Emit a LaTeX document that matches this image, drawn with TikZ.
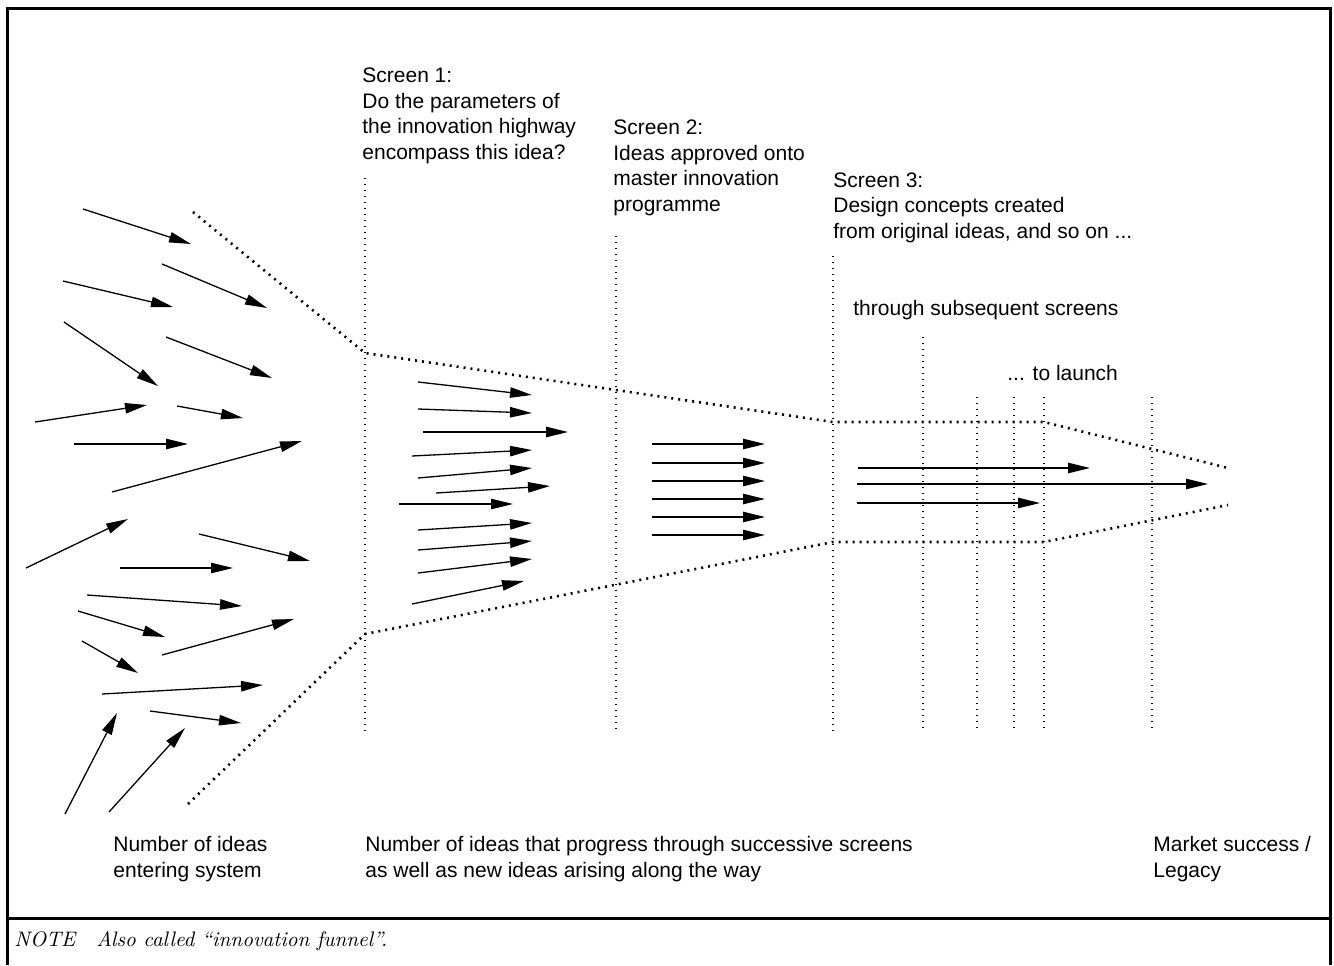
\documentclass[tikz,border=0pt]{standalone}
\usepackage{fontspec}
\newfontfamily\labelfont{Liberation Sans}
\usetikzlibrary{arrows.meta}

\begin{document}
\begin{tikzpicture}[x=0.5pt, y=-0.5pt,
    idea/.style={line width=0.65pt, -{Triangle[length=11pt,width=5.2pt]}},
    funnel/.style={line width=1.3pt, dash pattern=on 1pt off 2.5pt},
    screen/.style={line width=0.6pt, dash pattern=on 0.6pt off 2.4pt},
    lbl/.style={anchor=base west, inner sep=0pt, align=left, font=\labelfont\fontsize{10.5}{12.75}\selectfont}]
    \useasboundingbox (0,0) rectangle (1334,965);
    % frame
    \draw[line width=1.5pt] (7.5,965)--(7.5,8.5)--(1330.5,8.5)--(1330.5,965);
    \draw[line width=1.5pt] (7.5,918)--(1330.5,918);
    \node (note) [anchor=base west, inner sep=0pt, font=\fontsize{10.5}{13}\selectfont\itshape] at (14,946) {NOTE\quad Also called “innovation funnel”.};
    %
    % funnel outline
    \draw[funnel] (193,212)--(365,353)--(833,422)--(1044,422)--(1228,468);
    \draw[funnel] (188,804)--(365,634)--(833,542)--(1044,542)--(1228,505);
    % screens
    \draw[screen] (365,178)--(365,733);
    \draw[screen] (616,236)--(616,731);
    \draw[screen] (833,256)--(833,732);
    \draw[screen] (923,337)--(923,732);
    \draw[screen] (977,397)--(977,732);
    \draw[screen] (1014,397)--(1014,732);
    \draw[screen] (1044,397)--(1044,732);
    \draw[screen] (1152,397)--(1152,732);
    %
    % ideas entering
    \draw[idea] (83,209)--(191,244);
    \draw[idea] (162,264)--(267,308);
    \draw[idea] (63,281)--(173,307);
    \draw[idea] (64,322)--(158,386);
    \draw[idea] (166,337)--(272,378);
    \draw[idea] (35,422)--(147,405);
    \draw[idea] (177,406)--(243,418);
    \draw[idea] (74,444)--(188,444);
    \draw[idea] (112,492)--(302,441);
    \draw[idea] (26,568)--(128,519);
    \draw[idea] (199,534)--(310,561);
    \draw[idea] (120,568)--(233,568);
    \draw[idea] (87,595)--(242,606);
    \draw[idea] (78,611)--(165,637);
    \draw[idea] (162,655)--(294,619);
    \draw[idea] (82,641)--(138,673);
    \draw[idea] (102,694)--(263,685);
    \draw[idea] (150,711)--(241,723);
    \draw[idea] (65,814)--(117,713);
    \draw[idea] (109,812)--(185,728);
    % after screen 1
    \draw[idea] (418,382)--(532,395);
    \draw[idea] (418,409)--(532,413);
    \draw[idea] (423,432)--(568,432);
    \draw[idea] (412,456)--(532,450);
    \draw[idea] (418,478)--(532,468);
    \draw[idea] (436,493)--(550,486);
    \draw[idea] (399,504)--(513,504);
    \draw[idea] (418,530)--(532,523);
    \draw[idea] (418,550)--(532,541);
    \draw[idea] (418,573)--(532,559);
    \draw[idea] (412,604)--(524,581);
    % after screen 2
    \draw[idea] (652,444)--(765,444);
    \draw[idea] (652,463)--(765,463);
    \draw[idea] (652,481)--(765,481);
    \draw[idea] (652,499)--(765,499);
    \draw[idea] (652,517)--(765,517);
    \draw[idea] (652,535)--(765,535);
    % after screen 3
    \draw[idea] (858,468)--(1090,468);
    \draw[idea] (857,484)--(1208,484);
    \draw[idea] (857,503)--(1040,503);
    %
    % labels (anchored at the last line)
    \node (screenone) [lbl] at (362,159) {Screen 1:\\Do the parameters of\\the innovation highway\\encompass this idea?};
    \node (screentwo) [lbl] at (613,211) {Screen 2:\\Ideas approved onto\\master innovation\\programme};
    \node (screenthree) [lbl] at (833,238) {Screen 3:\\Design concepts created\\from original ideas, and so on ...};
    \node (through) [lbl] at (853,315) {through subsequent screens};
    \node (launch) [lbl] at (1007,380) {... to launch};
    \node (entering) [lbl] at (113,877) {Number of ideas\\entering system};
    \node (progress) [lbl] at (365,877) {Number of ideas that progress through successive screens\\as well as new ideas arising along the way};
    \node (market) [lbl] at (1153,877) {Market success /\\Legacy};
\end{tikzpicture}
\end{document}
